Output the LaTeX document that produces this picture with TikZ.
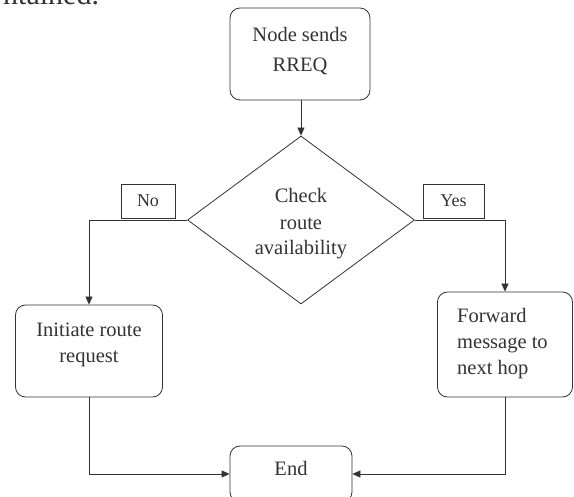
\documentclass[tikz,border=0pt]{standalone}
\usepackage{fontspec}
\setmainfont{Liberation Serif}
\usetikzlibrary{shapes.geometric,arrows.meta}
\definecolor{ink}{HTML}{333333}
\tikzset{
  box/.style={draw=ink, line width=0.8pt, rounded corners=10pt, inner sep=0pt},
  lab/.style={draw=ink, line width=0.8pt, inner sep=0pt, minimum height=34pt, font=\fontsize{18}{22}\selectfont, text=ink},
  txt/.style={inner sep=0pt, text=ink, font=\fontsize{20.5}{26}\selectfont},
  arr/.style={draw=ink, line width=0.8pt, -{Triangle[length=8pt,width=7pt]}},
  ln/.style={draw=ink, line width=0.8pt},
}
\begin{document}
\begin{tikzpicture}[x=1pt,y=-1pt]
\useasboundingbox (0,0) rectangle (574,497);
\clip (0,0) rectangle (574,497);
% fragment of page text
\node[inner sep=0pt, anchor=base west, text=ink, font=\fontsize{30}{36}\selectfont] (frag) at (3,5) {ntained.};
% boxes
\node[box, minimum width=140pt, minimum height=92pt] (start) at (300,54) {};
\node[txt, anchor=base] (starttxt) at (300,42) {Node sends};
\node[txt, anchor=base] (starttxt2) at (300,72) {RREQ};
\node[diamond, draw=ink, line width=0.8pt, minimum width=227pt, minimum height=168pt, inner sep=0pt] (chk) at (301,220) {};
\node[txt, anchor=base] (chk1) at (301,203) {Check};
\node[txt, anchor=base] (chk2) at (301,230) {route};
\node[txt, anchor=base] (chk3) at (301,255) {availability};
\node[box, minimum width=147pt, minimum height=92pt] (init) at (89,351) {};
\node[txt, anchor=base] (init1) at (89,337) {Initiate route};
\node[txt, anchor=base] (init2) at (89,363) {request};
\node[box, minimum width=135pt, minimum height=105pt] (fwd) at (505,344.5) {};
\node[txt, anchor=base west] (fwd1) at (457,323) {Forward};
\node[txt, anchor=base west] (fwd2) at (457,349) {message to};
\node[txt, anchor=base west] (fwd3) at (457,375) {next hop};
\node[box, minimum width=122pt, minimum height=56pt] (end) at (291,474) {};
\node[txt, anchor=base] (endtxt) at (291,476) {End};
% connectors
\draw[arr] (chk.north |- start.south) -- (chk.north);
\draw[arr] (chk.west) -| (init.north);
\draw[arr] (chk.east) -| (fwd.north);
\draw[arr] (init.south) |- (end.west);
\draw[arr] (fwd.south) |- (end.east);
% labels
\node[lab, minimum width=54pt] (no) at (148,201) {No};
\node[lab, minimum width=61pt] (yes) at (453.5,201) {Yes};
\end{tikzpicture}
\end{document}
